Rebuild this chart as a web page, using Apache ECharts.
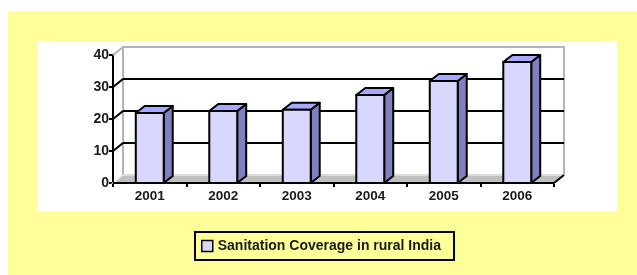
<!DOCTYPE html>
<html>
<head>
<meta charset="utf-8">
<script src="https://cdn.jsdelivr.net/npm/echarts@6/dist/echarts.min.js"></script>
<style>
  html, body { margin: 0; padding: 0; background: #fff; }
  #chart { width: 637px; height: 275px; }
</style>
</head>
<body>
<div id="chart"></div>
<script>
var years = ["2001", "2002", "2003", "2004", "2005", "2006"];
var coverage = [21.9, 22.5, 22.9, 27.5, 31.9, 37.8];
var wallTicks = [10, 20, 30, 40];
var seriesName = "Sanitation Coverage in rural India";

// depth of the walls and of the bars (pseudo 3d)
var DX = 10, DY = 8;
var BX = 9, BY = 7;
var font = "Liberation Sans, Arial, sans-serif";

var myChart = echarts.init(document.getElementById("chart"));

var chartoptions = {
  backgroundColor: "#fff",
  animation: false,
  graphic: [
    { type: "rect", z: -10, shape: { x: 8, y: 11, width: 629, height: 264 }, style: { fill: "#ffff99" } },
    { type: "rect", z: -9, shape: { x: 37, y: 41, width: 580, height: 170 }, style: { fill: "#fff" } }
  ],
  grid: [
    // back wall
    { left: 123, top: 47, width: 441, height: 128, show: true, borderColor: "#b4b4b4", borderWidth: 2, backgroundColor: "transparent" },
    // front plane
    { left: 113, top: 55, width: 441, height: 128 }
  ],
  legend: {
    left: 195,
    top: 232,
    data: [seriesName],
    icon: "rect",
    itemWidth: 11,
    itemHeight: 11,
    itemStyle: { color: "#d8d8ff", borderColor: "#000", borderWidth: 1.5 },
    textStyle: { fontFamily: font, fontWeight: "bold", fontSize: 14, color: "#1a1a1a" },
    borderColor: "#000",
    borderWidth: 2,
    padding: [7, 13, 7, 6],
    backgroundColor: "#ffff99"
  },
  xAxis: [
    {
      gridIndex: 0, type: "category", data: years,
      axisLine: { show: false }, axisTick: { show: false }, axisLabel: { show: false }, splitLine: { show: false }
    },
    {
      gridIndex: 1, type: "category", data: years,
      axisLine: { lineStyle: { color: "#000", width: 2 } },
      axisTick: { show: true, length: 4, lineStyle: { color: "#000", width: 2 } },
      axisLabel: { fontFamily: font, fontWeight: "bold", fontSize: 13.5, color: "#1a1a1a", margin: 6 },
      splitLine: { show: false }
    }
  ],
  yAxis: [
    {
      gridIndex: 0, type: "value", min: 0, max: 40, interval: 10,
      axisLine: { show: false }, axisTick: { show: false }, axisLabel: { show: false },
      splitLine: { show: true, lineStyle: { color: ["#b4b4b4", "#000", "#000", "#000", "#b4b4b4"], width: 2 } }
    },
    {
      gridIndex: 1, type: "value", min: 0, max: 40, interval: 10,
      axisLine: { show: true, lineStyle: { color: "#000", width: 2 } },
      axisTick: { show: true, length: 4, lineStyle: { color: "#000", width: 2 } },
      axisLabel: { fontFamily: font, fontWeight: "bold", fontSize: 14, color: "#1a1a1a", margin: 4 },
      splitLine: { show: false }
    }
  ],
  series: [
    {
      // floor
      type: "custom",
      xAxisIndex: 1, yAxisIndex: 1,
      z: 1, silent: true,
      data: [[0, 0]],
      renderItem: function(params, api) {
        var cs = params.coordSys;
        var yb = cs.y + cs.height;
        var xl = cs.x, xr = cs.x + cs.width;
        return {
          type: "group",
          children: [
            { type: "polygon", shape: { points: [[xl, yb], [xr, yb], [xr + DX, yb - DY], [xl + DX, yb - DY]] },
              style: { fill: "#c0c0c0", stroke: "#e6e6e6", lineWidth: 1.5 } },
            { type: "line", shape: { x1: xr, y1: yb, x2: xr + DX, y2: yb - DY }, style: { stroke: "#000", lineWidth: 2 } },
            { type: "line", shape: { x1: xl, y1: yb, x2: xr, y2: yb }, style: { stroke: "#000", lineWidth: 2 } }
          ]
        };
      }
    },
    {
      // side wall lines
      type: "custom",
      xAxisIndex: 1, yAxisIndex: 1,
      z: 1, silent: true,
      data: wallTicks.map(function(v) { return [0, v]; }),
      renderItem: function(params, api) {
        var cs = params.coordSys;
        var v = api.value(1);
        var p = api.coord([0, v]);
        return {
          type: "line",
          shape: { x1: cs.x, y1: p[1], x2: cs.x + DX, y2: p[1] - DY },
          style: { stroke: v === 40 ? "#b4b4b4" : "#000", lineWidth: 2 }
        };
      }
    },
    {
      name: seriesName,
      type: "custom",
      xAxisIndex: 1, yAxisIndex: 1,
      z: 3,
      itemStyle: { color: "#d8d8ff" },
      data: years.map(function(y, i) { return [i, coverage[i]]; }),
      renderItem: function(params, api) {
        var top = api.coord([api.value(0), api.value(1)]);
        var base = api.coord([api.value(0), 0]);
        var w = api.size([1, 0])[0] * 0.38;
        var x0 = top[0] - w / 2, x1 = top[0] + w / 2;
        var yt = top[1], yb = base[1];
        var edge = { stroke: "#000", lineWidth: 2, lineJoin: "round" };
        return {
          type: "group",
          children: [
            { type: "polygon", shape: { points: [[x1, yt], [x1 + BX, yt - BY], [x1 + BX, yb - BY], [x1, yb]] },
              style: Object.assign({ fill: "#8080c0" }, edge) },
            { type: "polygon", shape: { points: [[x0, yt], [x0 + BX, yt - BY], [x1 + BX, yt - BY], [x1, yt]] },
              style: Object.assign({ fill: "#a8a8ff" }, edge) },
            { type: "rect", shape: { x: x0, y: yt, width: w, height: yb - yt },
              style: Object.assign({ fill: "#d8d8ff" }, edge) }
          ]
        };
      }
    }
  ]
};

myChart.setOption(chartoptions);
</script>
</body>
</html>
